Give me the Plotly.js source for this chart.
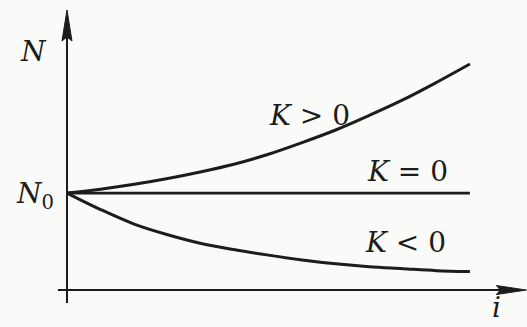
<!DOCTYPE html>
<html>
<head>
<meta charset="utf-8">
<script src="https://cdn.plot.ly/plotly-3.0.1.min.js"></script>
<style>html,body{margin:0;padding:0;background:#fafaf8;}#chart{width:527px;height:327px;}</style>
</head>
<body>
<div id="chart"></div>
<script>
// Data (N in units of N0, i = step number)
const steps = [0, 1, 2, 3, 4, 5, 6, 7, 8, 9, 10, 11, 12];
const growth = [1.00, 1.04, 1.09, 1.15, 1.22, 1.30, 1.40, 1.52, 1.65, 1.80, 1.96, 2.14, 2.33]; // K > 0
const steady = [1, 1, 1, 1, 1, 1, 1, 1, 1, 1, 1, 1, 1];                                        // K = 0
const decay  = [1.00, 0.83, 0.68, 0.57, 0.48, 0.415, 0.36, 0.31, 0.27, 0.24, 0.22, 0.20, 0.19]; // K < 0
const curveLabels = ['<i>K</i> &gt; 0', '<i>K</i> = 0', '<i>K</i> &lt; 0'];

const ink = '#1c1c1c';
const font = {family: 'DejaVu Serif, serif', size: 28, color: ink};

function curve(y, w) {
  return {x: steps, y: y, mode: 'lines', line: {color: ink, width: w, shape: 'spline', smoothing: 1},
          hoverinfo: 'skip', showlegend: false};
}
const traces = [curve(growth, 3), curve(steady, 2.8), curve(decay, 3)];

const xr = [-1.995, 13.70], yr = [-0.381, 2.99];
const yTip = 2.887, xTip = 13.68;

const layout = {
  width: 527, height: 327, autosize: false,
  margin: {l: 0, r: 0, t: 0, b: 0, pad: 0},
  paper_bgcolor: '#fafaf8', plot_bgcolor: '#fafaf8',
  xaxis: {range: xr, visible: false, fixedrange: true},
  yaxis: {range: yr, visible: false, fixedrange: true},
  shapes: [
    // N axis
    {type: 'line', xref: 'x', yref: 'y', x0: 0, x1: 0, y0: -0.134, y1: yTip - 0.25, line: {color: ink, width: 2}},
    // i axis
    {type: 'line', xref: 'x', yref: 'y', x0: -0.27, x1: xTip - 0.7, y0: 0, y1: 0, line: {color: ink, width: 2}},
    // arrow heads (pixel-sized, anchored at axis tips)
    {type: 'path', xref: 'x', yref: 'y', xsizemode: 'pixel', ysizemode: 'pixel', xanchor: 0, yanchor: yTip,
     path: 'M0,0 L-5,-31 L0,-27 L5,-31 Z', fillcolor: ink, line: {color: ink, width: 1}},
    {type: 'path', xref: 'x', yref: 'y', xsizemode: 'pixel', ysizemode: 'pixel', xanchor: xTip, yanchor: 0,
     path: 'M0,0 L-30,4.5 L-26,0 L-30,-4.5 Z', fillcolor: ink, line: {color: ink, width: 1}}
  ],
  annotations: [
    {x: 7.21, y: 1.80, text: curveLabels[0]},
    {x: 10.13, y: 1.22, text: curveLabels[1]},
    {x: 10.07, y: 0.49, text: curveLabels[2]},
    {x: -1.01, y: 2.46, text: '<i>N</i>'},
    {x: -0.33, y: 0.97, text: '<i>N</i><sub>0</sub>', xanchor: 'right'},
    {x: 12.80, y: -0.18, text: '<i>i</i>'}
  ].map(a => Object.assign({xref: 'x', yref: 'y', showarrow: false, font: font}, a))
};

Plotly.newPlot('chart', traces, layout, {staticPlot: true, displayModeBar: false});
</script>
</body>
</html>
